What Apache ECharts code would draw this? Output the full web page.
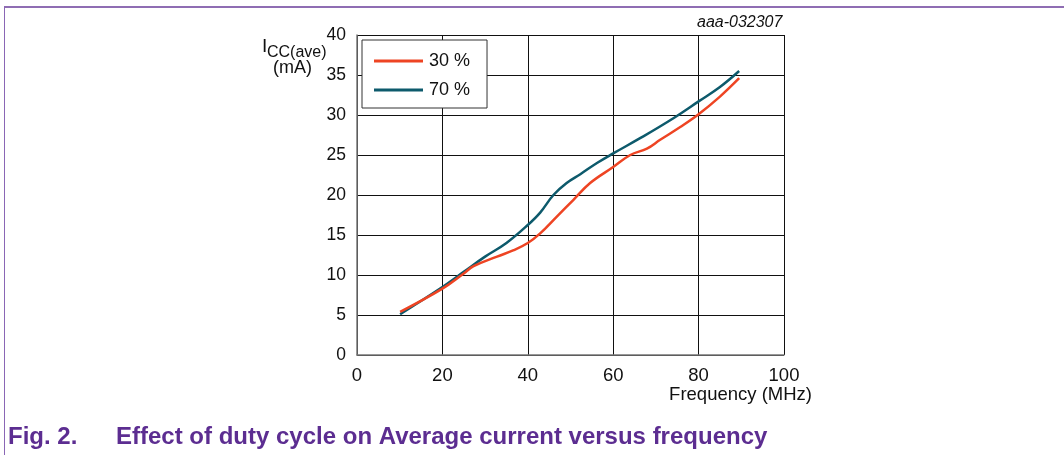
<!DOCTYPE html>
<html><head><meta charset="utf-8">
<script src="https://cdn.jsdelivr.net/npm/echarts@6/dist/echarts.min.js"></script>
<style>html,body{margin:0;padding:0;background:#fff}#c{width:1064px;height:455px}</style>
</head><body><div id="c"></div>
<script>
var xTicks = [0, 20, 40, 60, 80, 100];
var yTicks = [0, 5, 10, 15, 20, 25, 30, 35, 40];
var seriesNames = ['30 %', '70 %'];
var freq30 = [10.1, 20, 25, 27.3, 32.8, 36.7, 40, 42.9, 46.8, 50.7, 54.6, 60, 64, 67.9, 71, 75.7, 80, 85, 89.5];
var cur30  = [5.4, 8.3, 10.2, 11.1, 12.3, 13.1, 14.0, 15.2, 17.3, 19.4, 21.5, 23.5, 25.0, 25.8, 26.9, 28.5, 30.1, 32.3, 34.6];
var freq70 = [10.1, 20, 25, 30, 35, 40, 42.9, 46, 49.1, 52.3, 56.2, 60, 66.3, 74.1, 80, 85, 89.5];
var cur70  = [5.1, 8.5, 10.4, 12.3, 14.0, 16.25, 17.8, 20.0, 21.5, 22.6, 24.0, 25.2, 27.1, 29.6, 31.7, 33.5, 35.5];

function pairs(xs, ys){ return xs.map(function(x,i){ return [x, ys[i]]; }); }

var chart = echarts.init(document.getElementById('c'), null, {renderer:'canvas'});
var FONT = 'Liberation Sans, Arial, sans-serif';
var purple = '#5c2d91';
chart.setOption({
  animation: false,
  backgroundColor: '#fff',
  grid: {left: 357, right: 280, top: 35, height: 320, containLabel: false},
  xAxis: {
    type: 'value', min: xTicks[0], max: xTicks[xTicks.length-1], interval: 20,
    name: 'Frequency (MHz)', nameLocation: 'end', nameGap: 0,
    nameTextStyle: {fontFamily: FONT, fontSize: 18.5, color: '#111', align: 'right', verticalAlign: 'top', padding: [30, -28, 0, 0]},
    axisLine: {show: true, lineStyle: {color: '#777', width: 1.5}},
    axisTick: {show: false},
    axisLabel: {fontFamily: FONT, fontSize: 18.5, color: '#111', margin: 11},
    splitLine: {show: true, lineStyle: {color: '#111', width: 1}}
  },
  yAxis: {
    type: 'value', min: yTicks[0], max: yTicks[yTicks.length-1], interval: 5,
    axisLine: {show: true, lineStyle: {color: '#777', width: 1.5}},
    axisTick: {show: false},
    axisLabel: {fontFamily: FONT, fontSize: 17.5, color: '#111', margin: 11},
    splitLine: {show: true, lineStyle: {color: '#111', width: 1}}
  },
  legend: {
    left: 362, top: 40, orient: 'vertical',
    data: seriesNames.map(function(n){ return {name: n, icon: 'rect'}; }),
    itemWidth: 49, itemHeight: 3, itemGap: 11,
    padding: [12, 17, 9, 12],
    borderColor: '#333', borderWidth: 1, backgroundColor: '#fff',
    textStyle: {fontFamily: FONT, fontSize: 18, color: '#111', padding: [0,0,0,1]}
  },
  series: [
    {name: seriesNames[0], type: 'line', smooth: 0.4, showSymbol: false, symbol: 'none',
     data: pairs(freq30, cur30), lineStyle: {color: '#ee4423', width: 2.5}, itemStyle: {color: '#ee4423'}, z: 3},
    {name: seriesNames[1], type: 'line', smooth: 0.4, showSymbol: false, symbol: 'none',
     data: pairs(freq70, cur70), lineStyle: {color: '#0d5a6c', width: 2.5}, itemStyle: {color: '#0d5a6c'}, z: 2}
  ],
  graphic: [
    {type: 'line', shape: {x1: 4, y1: 7, x2: 1064, y2: 7}, style: {stroke: '#6a3d9a', lineWidth: 1.5}, silent: true},
    {type: 'line', shape: {x1: 4.5, y1: 7, x2: 4.5, y2: 455}, style: {stroke: '#8a66b5', lineWidth: 1}, silent: true},
    {type: 'text', left: 697, top: 15, style: {text: 'aaa-032307', font: 'italic 16px ' + FONT, fill: '#111'}},
    {type: 'text', left: 262, top: 37, style: {text: 'I', font: '19px ' + FONT, fill: '#111'}},
    {type: 'text', left: 267, top: 45, style: {text: 'CC(ave)', font: '16px ' + FONT, fill: '#111'}},
    {type: 'text', left: 273, top: 59, style: {text: '(mA)', font: '18px ' + FONT, fill: '#111'}},
    {type: 'text', left: 8, top: 425, style: {text: 'Fig. 2.', font: 'bold 24px ' + FONT, fill: purple}},
    {type: 'text', left: 116, top: 425, style: {text: 'Effect of duty cycle on Average current versus frequency', font: 'bold 24px ' + FONT, fill: purple}}
  ]
});
</script></body></html>
